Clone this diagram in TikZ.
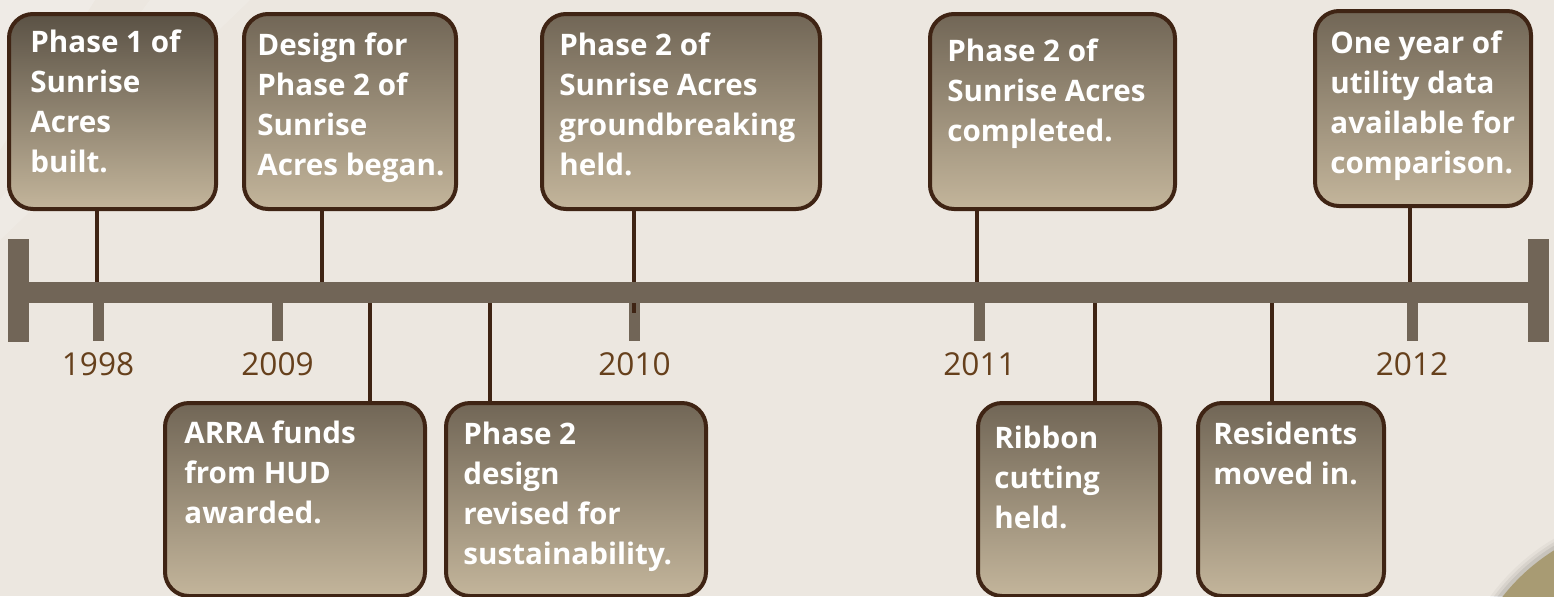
\documentclass[tikz,border=0pt]{standalone}
\usepackage{fontspec}
\usepackage{xcolor}
\newfontfamily\evfont{Open Sans}
\usetikzlibrary{positioning, calc}

\definecolor{bgcol}{HTML}{ECE7E0}
\definecolor{barcol}{HTML}{716557}
\definecolor{edgecol}{HTML}{3F2414}
\definecolor{yearcol}{HTML}{66401C}
\definecolor{boxtop}{HTML}{716656}
\definecolor{boxbot}{HTML}{C3B59B}
\definecolor{discol}{HTML}{A89B73}

\newcommand{\evlines}[1]{\parbox[t]{170pt}{\raggedright #1}}

\tikzset{
  evbox/.style={draw=edgecol, line width=2pt, rounded corners=12pt, top color=boxtop, bottom color=boxbot, inner sep=0pt},
  evtext/.style={anchor=base west, inner sep=0pt, text=white, font=\evfont\bfseries\fontsize{14.8}{20}\selectfont},
  yearlbl/.style={anchor=base, inner sep=0pt, text=yearcol, font=\evfont\fontsize{15.8}{20}\selectfont},
  stem/.style={draw=edgecol, line width=1.7pt},
  yeartick/.style={fill=barcol},
}

\begin{document}
\begin{tikzpicture}[x=0.5pt, y=-0.5pt]
    \useasboundingbox (0,0) rectangle (1554,596);
    \fill[bgcol] (0,0) rectangle (1554,596);
    % faint background wedges
    \fill[white, opacity=0.2] (0,150) -- (0,0) -- (95,0) -- cycle;
    \fill[white, opacity=0.15] (150,0) -- (250,0) -- (0,240) -- (0,200) -- cycle;

    % disc in the corner
    \foreach \r/\o in {105/0.03, 103.5/0.05, 102/0.07} {
        \fill[black, opacity=\o] (1660,720) circle [radius=\r pt];
    }
    \fill[discol] (1660,720) circle [radius=100pt];

    % axis
    \node[fill=barcol, inner sep=0pt, minimum width=769pt, minimum height=10.5pt] (axis) at (777,292.5) {};
    \fill[barcol] (8,239) rectangle (29,342);
    \fill[barcol] (1528,239) rectangle (1549,342);

    % year ticks
    \foreach \x/\yr in {98/1998, 277.5/2009, 634.5/2010, 979.5/2011, 1412/2012} {
        \fill[yeartick] (\x-5.5,303) rectangle (\x+5.5,341);
        \node[yearlbl] (y\yr) at (\x,375) {\yr};
    }

    % event boxes
    \node[evbox, minimum width=103.5pt, minimum height=97.5pt, top color=boxtop!80!black] (b1) at (112.5,111.5) {};
    \node[evbox, minimum width=106pt, minimum height=97.5pt] (b2) at (350,111.5) {};
    \node[evbox, minimum width=139pt, minimum height=97.5pt] (b3) at (681,111.5) {};
    \node[evbox, minimum width=122.5pt, minimum height=97.5pt] (b4) at (1052.5,111.5) {};
    \node[evbox, minimum width=108pt, minimum height=97.5pt] (b5) at (1423,108.5) {};
    \node[evbox, minimum width=130pt, minimum height=96.5pt] (b6) at (295,499.5) {};
    \node[evbox, minimum width=130pt, minimum height=96.5pt] (b7) at (576,499.5) {};
    \node[evbox, minimum width=91pt, minimum height=96.5pt] (b8) at (1069,499.5) {};
    \node[evbox, minimum width=93pt, minimum height=96.5pt] (b9) at (1291,499.5) {};

    \node[evtext] (t1) at (30,52) {\evlines{Phase 1 of\\Sunrise\\Acres\\built.}};
    \node[evtext] (t2) at (257,55) {\evlines{Design for\\Phase 2 of\\Sunrise\\Acres began.}};
    \node[evtext] (t3) at (559,55) {\evlines{Phase 2 of\\Sunrise Acres\\groundbreaking\\held.}};
    \node[evtext] (t4) at (947,61) {\evlines{Phase 2 of\\Sunrise Acres\\completed.}};
    \node[evtext] (t5) at (1330,53) {\evlines{One year of\\utility data\\available for\\comparison.}};
    \node[evtext] (t6) at (184,443) {\evlines{ARRA funds\\from HUD\\awarded.}};
    \node[evtext] (t7) at (463,444) {\evlines{Phase 2\\design\\revised for\\sustainability.}};
    \node[evtext] (t8) at (994,448) {\evlines{Ribbon\\cutting\\held.}};
    \node[evtext] (t9) at (1213,444) {\evlines{Residents\\moved in.}};

    % stems from boxes to the axis
    \path (97,0) coordinate (s1) (322,0) coordinate (s2) (634,0) coordinate (s3)
          (977,0) coordinate (s4) (1410,0) coordinate (s5) (370,0) coordinate (s6)
          (490,0) coordinate (s7) (1095,0) coordinate (s8) (1272,0) coordinate (s9);
    \foreach \i in {1,2,4,5} {
        \draw[stem] (s\i |- b\i.south) -- (s\i |- axis.north);
    }
    \draw[stem] (s3 |- b3.south) -- (634,313);
    \foreach \i in {6,...,9} {
        \draw[stem] (s\i |- axis.south) -- (s\i |- b\i.north);
    }
    \node[fill=barcol, inner sep=0pt, minimum width=769pt, minimum height=10.5pt] at (axis) {};
\end{tikzpicture}
\end{document}
